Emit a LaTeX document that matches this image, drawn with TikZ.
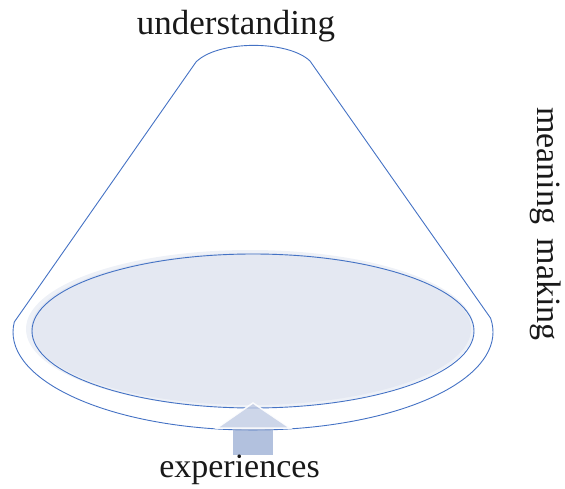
\documentclass[tikz,border=0pt]{standalone}
\usepackage{fontspec}
\setmainfont{Liberation Serif}
\definecolor{lineblue}{HTML}{4472C4}
\definecolor{discfill}{HTML}{E4E8F2}
\definecolor{halofill}{HTML}{EEF1F7}
\definecolor{headfill}{HTML}{B8C4E0}
\definecolor{shaftfill}{HTML}{91A6D0}
\tikzset{
  outline/.style={draw=lineblue, line width=0.9pt},
  lbl/.style={font=\fontsize{34}{40}\selectfont, inner sep=0pt, text=black!90},
}
\begin{document}
\begin{tikzpicture}[x=1pt,y=1pt]
\useasboundingbox (0,0) rectangle (565,488);
% cone outline
\draw[outline, line join=miter]
  (196,426) -- (14.3,166)
  arc[start angle=174.1, end angle=368.2, x radius=240, y radius=98]
  -- (310,427) .. controls (288,448) and (218,448) .. cycle;
% disc
\fill[halofill] (250,159) ellipse[x radius=224, y radius=79];
\fill[discfill] (251,159) ellipse[x radius=220, y radius=76];
\draw[outline] (253,157) ellipse[x radius=221, y radius=77];
% arrow
\fill[shaftfill, fill opacity=0.7] (233,33) rectangle (273,60);
\path[fill=headfill, fill opacity=0.7, draw=white, draw opacity=0.9, line width=1.5pt, line join=miter]
  (217,60) -- (253,85) -- (290,60) -- cycle;
% labels
\node[lbl, font=\fontsize{35}{40}\selectfont, anchor=base] (und) at (236,453) {understanding};
\node[lbl, anchor=base] (exp) at (239.5,11) {experiences};
\node[lbl, anchor=base, rotate=-90] (mm) at (537,264) {meaning\hspace{6pt} making};
\end{tikzpicture}
\end{document}
